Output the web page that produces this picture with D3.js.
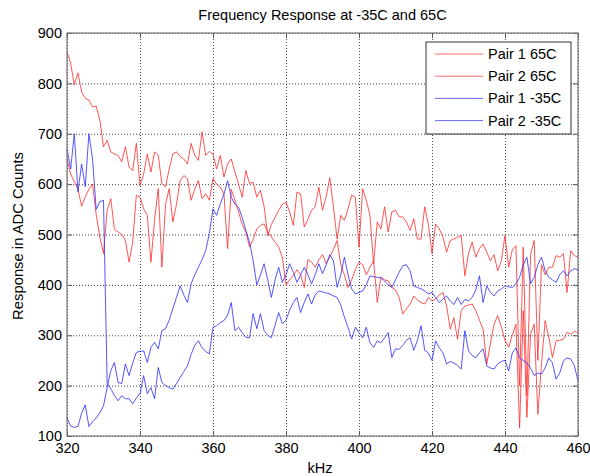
<!DOCTYPE html>
<html>
<head>
<meta charset="utf-8">
<script src="https://cdn.jsdelivr.net/npm/d3@7"></script>
<style>
  body { margin: 0; background: #fff; }
  svg { font-family: "Liberation Sans", Arial, sans-serif; }
</style>
</head>
<body>
<svg width="590" height="476"></svg>
<script>
// frequencies sampled every 1 kHz, 320..460
const kHz = d3.range(320, 461);

const pair1Hot = [
  863, 840, 797, 821, 783, 770, 767, 753, 755, 727,
  674, 687, 664, 660, 657, 644, 674, 634, 627, 681,
  597, 620, 660, 624, 664, 657, 601, 595, 630, 660,
  664, 655, 650, 640, 681, 657, 647, 704, 657, 665,
  660, 630, 657, 614, 640, 650, 624, 600, 574, 627,
  601, 604, 574, 588, 555, 498, 520, 534, 548, 560,
  564, 545, 518, 584, 581, 515, 530, 548, 555, 594,
  548, 575, 613, 555, 491, 538, 528, 551, 578, 574,
  475, 591, 568, 538, 442, 525, 511, 555, 505, 545,
  548, 535, 535, 525, 508, 531, 491, 491, 555, 520,
  462, 521, 511, 495, 465, 488, 491, 495, 498, 418,
  462, 485, 455, 472, 481, 465, 448, 460, 428, 448,
  498, 435, 470, 478, 200, 475, 180, 460, 488, 250,
  440, 420, 435, 435, 458, 455, 462, 385, 468, 458,
  455
];

const pair2Hot = [
  650, 620, 605, 590, 556, 575, 590, 600, 540, 495,
  462, 548, 571, 510, 505, 500, 488, 445, 485, 578,
  574, 551, 538, 445, 530, 591, 435, 560, 591, 525,
  560, 607, 617, 611, 568, 590, 607, 571, 581, 568,
  611, 600, 594, 580, 472, 590, 568, 545, 520, 505,
  475, 490, 511, 518, 521, 505, 495, 485, 475, 455,
  400, 410, 418, 430, 420, 395, 450, 445, 435, 450,
  460, 442, 455, 470, 488, 440, 420, 395, 410, 430,
  445, 440, 420, 435, 448, 365, 415, 410, 408, 395,
  390, 375, 342, 352, 362, 378, 370, 365, 362, 375,
  368, 372, 380, 385, 358, 312, 335, 292, 349, 358,
  360, 362, 349, 330, 312, 243, 283, 322, 339, 316,
  290, 276, 300, 322, 116, 349, 137, 302, 322, 143,
  243, 329, 296, 256, 289, 290, 292, 306, 302, 308,
  305
];

const pair1Cold = [
  670, 630, 700, 585, 640, 595, 700, 650, 550, 565,
  568, 204, 194, 180, 170, 180, 174, 174, 164, 175,
  184, 220, 184, 196, 174, 236, 206, 200, 196, 193,
  204, 216, 228, 239, 262, 280, 289, 275, 268, 263,
  316, 319, 325, 329, 340, 365, 309, 316, 305, 296,
  295, 343, 313, 343, 309, 300, 295, 320, 345, 323,
  330, 350, 365, 375, 345, 365, 382, 362, 380, 388,
  386, 384, 382, 378, 375, 360, 336, 315, 293, 316,
  305, 295, 316, 285, 276, 289, 285, 295, 305, 256,
  273, 272, 280, 290, 295, 270, 290, 319, 270, 265,
  250, 289, 275, 265, 243, 248, 245, 240, 233, 309,
  269, 260, 255, 265, 273, 239, 235, 233, 243, 248,
  250, 229, 265, 275, 255, 250, 245, 235, 220, 225,
  223, 235, 255, 245, 213, 225, 249, 255, 253, 240,
  209
];

const pair2Cold = [
  136, 120, 117, 119, 145, 162, 119, 128, 136, 146,
  160, 196, 230, 246, 206, 204, 243, 220, 245, 266,
  268, 269, 246, 276, 286, 273, 309, 313, 330, 353,
  375, 398, 380, 365, 402, 420, 435, 450, 468, 502,
  551, 538, 561, 580, 607, 574, 560, 554, 534, 508,
  485, 448, 400, 420, 442, 410, 375, 410, 435, 405,
  420, 442, 425, 405, 420, 435, 420, 402, 420, 442,
  422, 440, 460, 448, 395, 420, 455, 420, 392, 382,
  385, 388, 400, 418, 416, 415, 414, 408, 400, 395,
  410, 425, 438, 440, 428, 398, 395, 392, 388, 382,
  385, 375, 365, 372, 378, 368, 361, 375, 361, 371,
  368, 375, 390, 418, 365, 398, 385, 378, 388, 392,
  398, 396, 395, 402, 415, 440, 455, 402, 415, 440,
  455, 428, 415, 410, 405, 420, 428, 418, 428, 432,
  430
];

const seriesNames = ["Pair 1 65C", "Pair 2 65C", "Pair 1 -35C", "Pair 2 -35C"];
const seriesColors = ["#ff2a2a", "#ff2a2a", "#2a2aff", "#2a2aff"];
const seriesValues = [pair1Hot, pair2Hot, pair1Cold, pair2Cold];

const xTicks = [320, 340, 360, 380, 400, 420, 440, 460];
const yTicks = [100, 200, 300, 400, 500, 600, 700, 800, 900];

const pLeft = 67, pRight = 578, pTop = 33, pBottom = 436;

const svg = d3.select("svg");
const x = d3.scaleLinear().domain([320, 460]).range([pLeft, pRight]);
const y = d3.scaleLinear().domain([100, 900]).range([pBottom, pTop]);

// dotted grid
svg.append("g")
    .attr("transform", `translate(0, ${pBottom})`)
    .call(d3.axisBottom(x).tickValues(xTicks).tickSize(-(pBottom - pTop)).tickFormat(""))
    .call(g => g.select(".domain").remove())
    .selectAll("line")
    .attr("stroke", "#444")
    .attr("stroke-dasharray", "1,2");
svg.append("g")
    .attr("transform", `translate(${pLeft}, 0)`)
    .call(d3.axisLeft(y).tickValues(yTicks).tickSize(-(pRight - pLeft)).tickFormat(""))
    .call(g => g.select(".domain").remove())
    .selectAll("line")
    .attr("stroke", "#444")
    .attr("stroke-dasharray", "1,2");

// data lines
const line = d3.line()
    .x((d, i) => x(kHz[i]))
    .y(d => y(d));

const plot = svg.append("g");
seriesValues.forEach((vals, k) => {
    plot.append("path")
        .datum(vals)
        .attr("d", line)
        .attr("fill", "none")
        .attr("stroke", seriesColors[k])
        .attr("stroke-width", 1)
        .attr("stroke-opacity", 0.8);
});

// axes box with inward ticks
const axisStyle = g => {
    g.select(".domain").remove();
    g.selectAll("line").attr("stroke", "#555");
    g.selectAll("text").attr("fill", "#000").attr("font-size", "14.5px")
        .attr("font-family", "Liberation Sans, Arial, sans-serif");
};
svg.append("g")
    .attr("transform", `translate(0, ${pBottom})`)
    .call(d3.axisBottom(x).tickValues(xTicks).tickSizeInner(-5).tickSizeOuter(0).tickPadding(7))
    .call(axisStyle);
svg.append("g")
    .attr("transform", `translate(0, ${pTop})`)
    .call(d3.axisTop(x).tickValues(xTicks).tickSizeInner(-5).tickSizeOuter(0).tickFormat(""))
    .call(axisStyle);
svg.append("g")
    .attr("transform", `translate(${pLeft}, 0)`)
    .call(d3.axisLeft(y).tickValues(yTicks).tickSizeInner(-5).tickSizeOuter(0).tickPadding(5))
    .call(axisStyle);
svg.append("g")
    .attr("transform", `translate(${pRight}, 0)`)
    .call(d3.axisRight(y).tickValues(yTicks).tickSizeInner(-5).tickSizeOuter(0).tickFormat(""))
    .call(axisStyle);

svg.append("rect")
    .attr("x", pLeft)
    .attr("y", pTop)
    .attr("width", pRight - pLeft)
    .attr("height", pBottom - pTop)
    .attr("fill", "none")
    .attr("stroke", "#777")
    .attr("stroke-width", 1.2);

// title and labels
svg.append("text")
    .attr("x", (pLeft + pRight) / 2)
    .attr("y", 20)
    .attr("text-anchor", "middle")
    .attr("font-size", "14.5px")
    .text("Frequency Response at -35C and 65C");
svg.append("text")
    .attr("x", 320)
    .attr("y", 473)
    .attr("text-anchor", "middle")
    .attr("font-size", "14.5px")
    .text("kHz");
svg.append("text")
    .attr("transform", `translate(23, 236) rotate(-90)`)
    .attr("text-anchor", "middle")
    .attr("font-size", "14.8px")
    .text("Response in ADC Counts");

// legend
const legend = svg.append("g");
legend.append("rect")
    .attr("x", 426)
    .attr("y", 42)
    .attr("width", 145)
    .attr("height", 92)
    .attr("fill", "#fff")
    .attr("stroke", "#333")
    .attr("stroke-width", 1);
seriesNames.forEach((name, k) => {
    const ly = 54 + k * 22.2;
    legend.append("line")
        .attr("x1", 435).attr("x2", 483)
        .attr("y1", ly).attr("y2", ly)
        .attr("stroke", seriesColors[k])
        .attr("stroke-opacity", 0.7);
    legend.append("text")
        .attr("x", 488)
        .attr("y", ly + 5)
        .attr("font-size", "14.5px")
        .text(name);
});
</script>
</body>
</html>
